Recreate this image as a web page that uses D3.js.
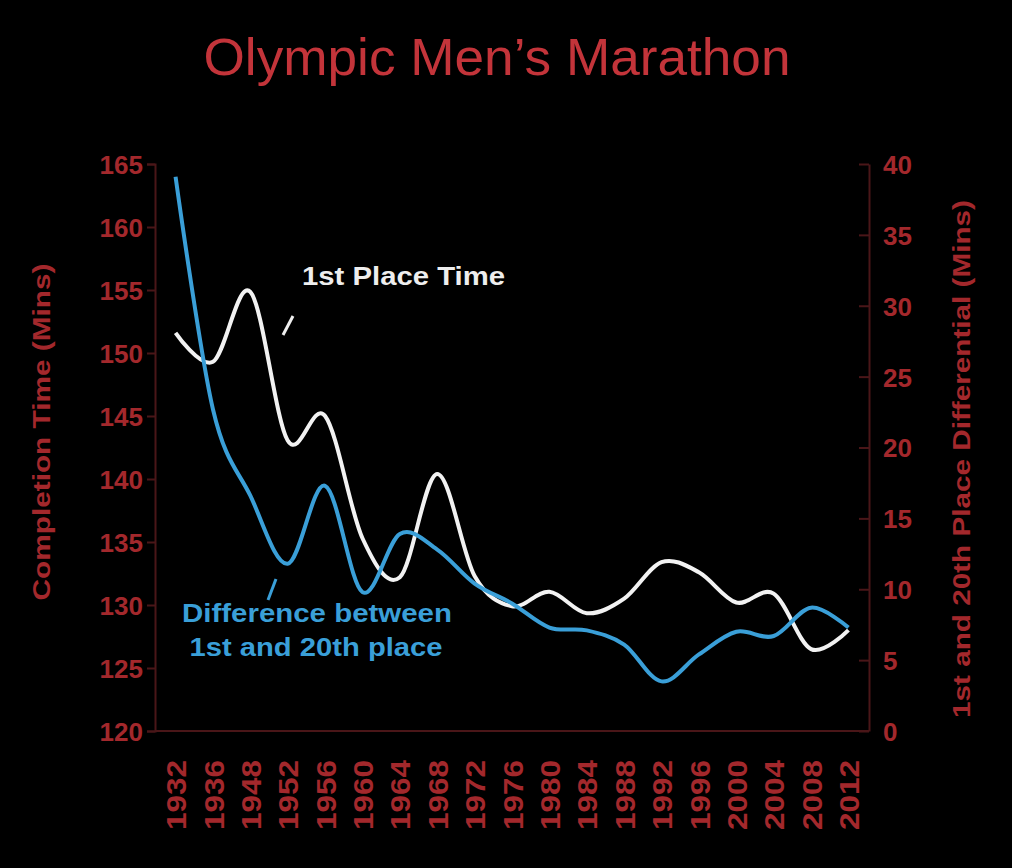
<!DOCTYPE html>
<html><head><meta charset="utf-8">
<script src="https://cdn.jsdelivr.net/npm/d3@7"></script>
<style>html,body{margin:0;padding:0;background:#000;}svg{display:block;}</style>
</head><body>
<svg id="c" width="1012" height="868"></svg>
<script>
const years = ["1932","1936","1948","1952","1956","1960","1964","1968","1972","1976","1980","1984","1988","1992","1996","2000","2004","2008","2012"];
const firstPlace = [151.6,149.3,154.85,143.05,145.0,135.3,132.2,140.4,132.3,129.9,131.05,129.35,130.5,133.4,132.6,130.2,130.9,126.5,128.0];
const difference = [39.1,22.7,16.6,11.8,17.3,9.8,13.9,12.8,10.4,9.0,7.3,7.1,6.1,3.5,5.4,7.0,6.7,8.7,7.3];
const leftTicks = [120,125,130,135,140,145,150,155,160,165];
const rightTicks = [0,5,10,15,20,25,30,35,40];

const svg = d3.select("#c");
svg.append("rect").attr("width",1012).attr("height",868).attr("fill","#000");

const axisCol = "#4a1618", labCol = "#a3282c";
const x = d3.scalePoint().domain(years).range([155,869]).padding(0.55);
const yL = d3.scaleLinear().domain([120,165]).range([731,164]);
const yR = d3.scaleLinear().domain([0,40]).range([731,164]);

// title
svg.append("text").attr("x",497).attr("y",75).attr("text-anchor","middle")
  .attr("font-family","Liberation Sans, Arial, sans-serif").attr("font-size",52)
  .attr("textLength",587).attr("lengthAdjust","spacingAndGlyphs")
  .attr("fill","#c3343a").text("Olympic Men\u2019s Marathon");

// left axis
const gL = svg.append("g").attr("transform","translate(155,0)")
  .call(d3.axisLeft(yL).tickValues(leftTicks).tickSize(8).tickPadding(4));
// right axis
const gR = svg.append("g").attr("transform","translate(869,0)")
  .call(d3.axisRight(yR).tickValues(rightTicks).tickSizeInner(-10).tickSizeOuter(0).tickPadding(14));
// bottom axis
const gB = svg.append("g").attr("transform","translate(0,731)")
  .call(d3.axisBottom(x).tickSize(0).tickPadding(0));
gB.select(".domain").attr("d","M155,0H869");

[gL,gR,gB].forEach(g=>{
  g.select(".domain").attr("stroke",axisCol).attr("stroke-width",2);
  g.selectAll(".tick line").attr("stroke",axisCol).attr("stroke-width",2);
  g.selectAll("text").attr("fill",labCol).attr("font-family","Liberation Sans, Arial, sans-serif")
   .attr("font-weight","bold");
});
gL.selectAll("text").attr("font-size",26).attr("dy","0.36em");
gR.selectAll("text").attr("font-size",26).attr("dy","0.36em");
gB.selectAll("text").attr("font-size",28).attr("text-anchor","end")
  .attr("textLength",70).attr("lengthAdjust","spacingAndGlyphs")
  .attr("transform","translate(0,29) rotate(-90)").attr("dy","0.36em").attr("dx",0).attr("y",0);

// axis titles
svg.append("text").attr("transform","translate(50,432) rotate(-90)").attr("text-anchor","middle")
  .attr("font-family","Liberation Sans, Arial, sans-serif").attr("font-weight","bold").attr("font-size",24)
  .attr("textLength",337).attr("lengthAdjust","spacingAndGlyphs").attr("fill",labCol)
  .text("Completion Time (Mins)");
svg.append("text").attr("transform","translate(970,459) rotate(-90)").attr("text-anchor","middle")
  .attr("font-family","Liberation Sans, Arial, sans-serif").attr("font-weight","bold").attr("font-size",24)
  .attr("textLength",518).attr("lengthAdjust","spacingAndGlyphs").attr("fill",labCol)
  .text("1st and 20th Place Differential (Mins)");

// lines
const curve = d3.curveCardinal.tension(0);
const lineL = d3.line().x((d,i)=>x(years[i])).y(d=>yL(d)).curve(curve);
const lineR = d3.line().x((d,i)=>x(years[i])).y(d=>yR(d)).curve(curve);
svg.append("path").attr("d",lineL(firstPlace)).attr("fill","none").attr("stroke","#f2f2f2").attr("stroke-width",4);
svg.append("path").attr("d",lineR(difference)).attr("fill","none").attr("stroke","#3a9fd8").attr("stroke-width",4);

// annotations
svg.append("text").attr("x",302).attr("y",285).attr("font-family","Liberation Sans, Arial, sans-serif")
  .attr("font-weight","bold").attr("font-size",25).attr("textLength",203).attr("lengthAdjust","spacingAndGlyphs")
  .attr("fill","#eeeeee").text("1st Place Time");
svg.append("line").attr("x1",283).attr("y1",335).attr("x2",293).attr("y2",316).attr("stroke","#eeeeee").attr("stroke-width",3);
svg.append("text").attr("x",317).attr("y",622).attr("text-anchor","middle").attr("font-family","Liberation Sans, Arial, sans-serif")
  .attr("font-weight","bold").attr("font-size",25).attr("textLength",270).attr("lengthAdjust","spacingAndGlyphs")
  .attr("fill","#3a9fd8").text("Difference between");
svg.append("text").attr("x",316).attr("y",656).attr("text-anchor","middle").attr("font-family","Liberation Sans, Arial, sans-serif")
  .attr("font-weight","bold").attr("font-size",25).attr("textLength",253).attr("lengthAdjust","spacingAndGlyphs")
  .attr("fill","#3a9fd8").text("1st and 20th place");
svg.append("line").attr("x1",268).attr("y1",600).attr("x2",276).attr("y2",579).attr("stroke","#3a9fd8").attr("stroke-width",3);
</script>
</body></html>
